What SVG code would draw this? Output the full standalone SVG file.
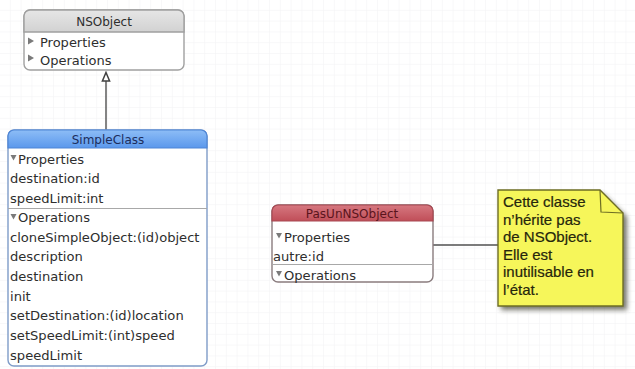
<svg xmlns="http://www.w3.org/2000/svg" width="635" height="369" viewBox="0 0 635 369">
  <defs>
    <pattern id="grid" width="10.8" height="10.8" patternUnits="userSpaceOnUse">
      <path d="M10.8 0 V10.8 M0 10.8 H10.8" fill="none" stroke="#f2f2f4" stroke-width="1"/>
    </pattern>
    <linearGradient id="hdrGray" x1="0" y1="0" x2="0" y2="1">
      <stop offset="0" stop-color="#e6e6e6"/>
      <stop offset="1" stop-color="#d2d2d2"/>
    </linearGradient>
    <linearGradient id="hdrBlue" x1="0" y1="0" x2="0" y2="1">
      <stop offset="0" stop-color="#8dbdf6"/>
      <stop offset="1" stop-color="#5b98ec"/>
    </linearGradient>
    <linearGradient id="hdrRed" x1="0" y1="0" x2="0" y2="1">
      <stop offset="0" stop-color="#d67880"/>
      <stop offset="1" stop-color="#c04e58"/>
    </linearGradient>
    <filter id="noteShadow" x="-20%" y="-20%" width="140%" height="150%">
      <feGaussianBlur stdDeviation="2.5"/>
    </filter>
  </defs>
  <style>
    .item { font-family: "DejaVu Sans", Verdana, sans-serif; font-size: 13.1px; fill: #2e2e2e; }
    .title { font-family: "DejaVu Sans", Verdana, sans-serif; font-size: 12px; text-anchor: middle; }
    .sep { stroke: #a8a8a8; stroke-width: 1.2; }
    .tri { fill: #7a7a7a; }
    .note { font-family: "Liberation Sans", Arial, sans-serif; font-size: 15px; fill: #26260c; stroke: #26260c; stroke-width: 0.2; }
    .link { fill: none; stroke: #505050; stroke-width: 1.4; }
  </style>

  <rect width="635" height="369" fill="#ffffff"/>
  <rect width="635" height="369" fill="url(#grid)"/>

  <!-- connectors -->
  <g id="connectors">
    <!-- generalization: SimpleClass to NSObject, hollow triangle head -->
    <line class="link" x1="106" y1="130" x2="106" y2="81"/>
    <polygon points="106,72.5 109.6,81 102.4,81" fill="#ffffff" stroke="#404040" stroke-width="1.5" stroke-linejoin="miter"/>
    <!-- note anchor -->
    <line class="link" x1="433" y1="245" x2="498" y2="245"/>
  </g>

  <!-- NSObject (collapsed) -->
  <g id="NSObject">
    <rect x="24" y="10" width="160" height="60" rx="6" fill="#ffffff" stroke="#a0a0a0" stroke-width="1.4"/>
    <path d="M24 32 V16 A6 6 0 0 1 30 10 H178 A6 6 0 0 1 184 16 V32 Z" fill="url(#hdrGray)" stroke="#a0a0a0" stroke-width="1.4"/>
    <text class="title" x="104" y="26" fill="#2e2e2e">NSObject</text>
    <polygon class="tri" points="28,37.5 34,41 28,44.5"/>
    <text class="item" x="40" y="47" style="font-size:13px">Properties</text>
    <polygon class="tri" points="28,54.5 34,58 28,61.5"/>
    <text class="item" x="40" y="65" style="font-size:13px">Operations</text>
  </g>

  <!-- SimpleClass -->
  <g id="SimpleClass">
    <rect x="8" y="130" width="199" height="236" rx="6" fill="#ffffff" stroke="#7f9cc8" stroke-width="1.4"/>
    <path d="M8 148 V136 A6 6 0 0 1 14 130 H201 A6 6 0 0 1 207 136 V148 Z" fill="url(#hdrBlue)" stroke="#4f86d6" stroke-width="1.2"/>
    <text class="title" x="108" y="143.5" fill="#1c2d5c">SimpleClass</text>
    <polygon class="tri" points="10.5,155 16.5,155 13.5,160.5"/>
    <text class="item" x="18" y="163.5">Properties</text>
    <text class="item" x="10" y="183">destination:id</text>
    <text class="item" x="10" y="202.5">speedLimit:int</text>
    <line class="sep" x1="8" y1="208.5" x2="207" y2="208.5"/>
    <polygon class="tri" points="10.5,214 16.5,214 13.5,219.5"/>
    <text class="item" x="18" y="222">Operations</text>
    <text class="item" x="10" y="241.5">cloneSimpleObject:(id)object</text>
    <text class="item" x="10" y="261">description</text>
    <text class="item" x="10" y="280.5">destination</text>
    <text class="item" x="10" y="300.5">init</text>
    <text class="item" x="10" y="320">setDestination:(id)location</text>
    <text class="item" x="10" y="340">setSpeedLimit:(int)speed</text>
    <text class="item" x="10" y="359.5">speedLimit</text>
  </g>

  <!-- PasUnNSObject -->
  <g id="PasUnNSObject">
    <rect x="272" y="205" width="161" height="77" rx="6" fill="#ffffff" stroke="#8a7c7e" stroke-width="1.4"/>
    <path d="M272 221 V211 A6 6 0 0 1 278 205 H427 A6 6 0 0 1 433 211 V221 Z" fill="url(#hdrRed)" stroke="#a84852" stroke-width="1.2"/>
    <text class="title" x="352" y="217.5" fill="#5a141c">PasUnNSObject</text>
    <polygon class="tri" points="276,233 282,233 279,238.5"/>
    <text class="item" x="284" y="241.5">Properties</text>
    <text class="item" x="273" y="260.5">autre:id</text>
    <line class="sep" x1="272" y1="264.5" x2="433" y2="264.5"/>
    <polygon class="tri" points="276,271 282,271 279,276.5"/>
    <text class="item" x="284" y="279.5">Operations</text>
  </g>

  <!-- comment note -->
  <g id="note">
    <path d="M501 194 H603 L627 217 V310 H501 Z" fill="#4a4a3a" opacity="0.75" filter="url(#noteShadow)"/>
    <path d="M498 190 H600 L623 213 V306 H498 Z" fill="#f6f65a" stroke="#6e6e24" stroke-width="1.4"/>
    <path d="M600 190 L601 212 L623 213" fill="none" stroke="#6e6e24" stroke-width="1.2"/>
    <text class="note" x="503" y="207">Cette classe</text>
    <text class="note" x="503" y="224.5">n’hérite pas</text>
    <text class="note" x="503" y="242">de NSObject.</text>
    <text class="note" x="503" y="259.5">Elle est</text>
    <text class="note" x="503" y="277">inutilisable en</text>
    <text class="note" x="503" y="295">l’état.</text>
  </g>
</svg>
